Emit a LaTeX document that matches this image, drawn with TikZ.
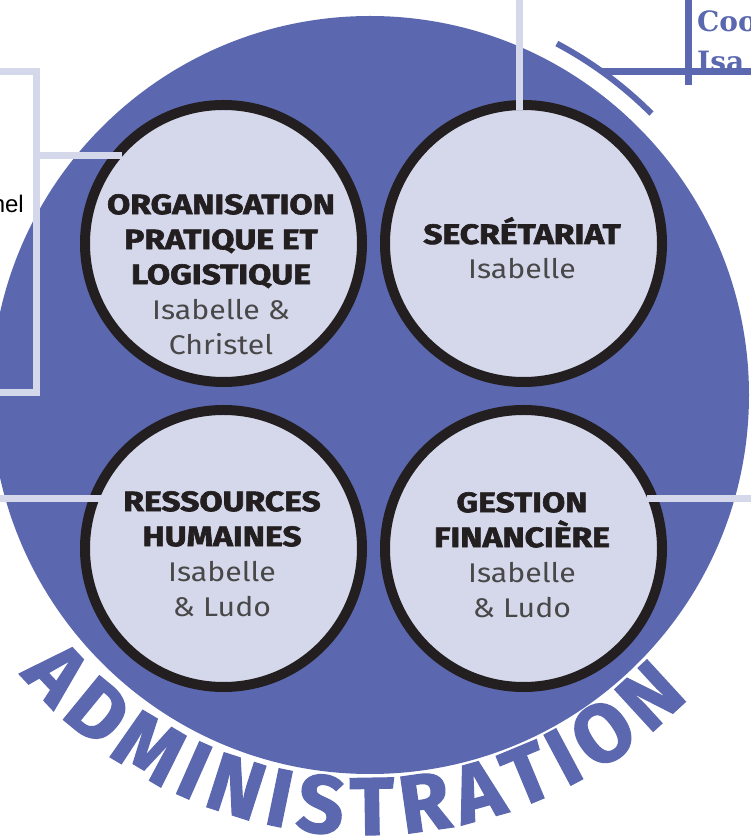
\documentclass[tikz,border=0pt]{standalone}
\usepackage{fontspec}
\setmainfont{Liberation Sans}
\newfontfamily\titlefont[BoldFeatures={FakeBold=2.2, FakeStretch=1.2}]{Fira Sans}
\newfontfamily\rimfont[BoldFeatures={FakeBold=1.5}]{Fira Sans}
\newfontfamily\namefont[FakeStretch=1.12]{Fira Sans}
\newfontfamily\coordfont{DejaVu Serif}
\usetikzlibrary{positioning, decorations.text}

\definecolor{admblue}{RGB}{91,103,174}
\definecolor{pale}{RGB}{213,216,235}
\definecolor{ink}{RGB}{35,31,32}
\definecolor{namegrey}{RGB}{72,72,72}

\begin{document}
\begin{tikzpicture}[x=1pt, y=1pt]

\tikzset{pole/.style = {shape=circle, draw=ink, fill=pale, line width=10pt, minimum size=277pt, inner sep=0pt}}
\tikzset{caption/.style = {anchor=north, align=center, inner sep=0pt, font=\fontsize{27}{35}\selectfont}}
\tikzset{link/.style = {draw=pale, line width=7pt}}
\tikzset{bluelink/.style = {draw=admblue, line width=7pt}}
\newcommand{\ttl}[1]{{\titlefont\bfseries\fontsize{28}{35}\selectfont\color{ink}#1}}
\newcommand{\who}[1]{{\namefont\color{namegrey}#1}}

\useasboundingbox (0,0) rectangle (751,836);

% big disc
\node[shape=circle, fill=admblue, minimum size=758pt, inner sep=0pt] (admin) at (370,441) {};
\coordinate (admc) at (365,451);

% vertices
\node[pole] (tl) at (223.5,592.5) {};
\node[pole] (tr) at (523.5,592.5) {};
\node[pole] (bl) at (223.5,287.5) {};
\node[pole] (br) at (523.5,287.5) {};

\node[caption] (tltext) at (221,642) {\ttl{ORGANISATION}\\ \ttl{PRATIQUE ET}\\ \ttl{LOGISTIQUE}\\ \who{Isabelle \&}\\ \who{Christel}};
\node[caption] (trtext) at (522,619) {\ttl{SECRÉTARIAT}\\ \who{Isabelle}};
\node[caption] (bltext) at (222,345) {\ttl{RESSOURCES}\\ \ttl{HUMAINES}\\ \who{Isabelle}\\ \who{\& Ludo}};
\node[caption] (brtext) at (522,344) {\ttl{GESTION}\\ \ttl{FINANCIÈRE}\\ \who{Isabelle}\\ \who{\& Ludo}};

% outside boxes
\coordinate (boxnw) at (-10,764.5);
\coordinate (boxne) at (36,764.5);
\coordinate (boxse) at (36,443);
\coordinate (boxsw) at (-10,443);
\coordinate (boxtap) at (36,680);
\node[anchor=base east, inner sep=0pt, font=\fontsize{24}{24}\selectfont] (boxtext) at (24,623) {nel};

\coordinate (sectap) at (519.5,841);
\coordinate (hrtap) at (-5,337);
\coordinate (fintap) at (756,337);

\coordinate (coordtop) at (688.5,841);
\coordinate (coordfoot) at (688.5,751);
\node[anchor=base west, inner sep=0pt, text=admblue, font=\coordfont\bfseries\fontsize{28}{28}\selectfont] (coordhead) at (697,804) {Coo};
\node[anchor=base west, inner sep=0pt, text=admblue, font=\coordfont\bfseries\fontsize{28}{28}\selectfont] (coordname) at (697,764) {Isa};

%edges
\draw[link, line join=miter] (boxnw) -- (boxne) -- (boxse) -- (boxsw);
\draw[link, shorten >=-12pt] (boxtap) -- (tl.142.4 |- boxtap);
\draw[link, shorten >=-10pt] (sectap) -- (sectap |- tr.north);
\draw[link, shorten >=-11pt] (hrtap) -- (bl.159.8 |- hrtap);
\draw[link, shorten <=-11pt] (br.20.2 |- fintap) -- (fintap);

\draw[bluelink] (coordtop) -- (coordfoot);
\draw[bluelink] ([shift={(54.4:398)}]admin.center) -- ([shift={(54.4:398)}]admin.center -| coordtop);
\draw[bluelink, line width=6pt] ([shift={(45:398)}]admin.center) arc[start angle=45, end angle=62, radius=398];

% title on the rim
\path[decorate, decoration={text along path, text align={fit to path}, text color=admblue,
  text={|\rimfont\bfseries\fontsize{82}{82}\selectfont|ADMINISTRATION}}]
  ([shift={(220:450)}]admc) arc[start angle=220, end angle=316, radius=450];

\end{tikzpicture}
\end{document}
